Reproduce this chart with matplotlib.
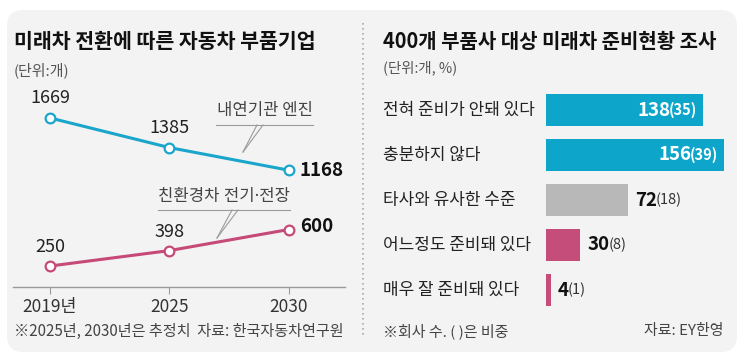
import matplotlib
matplotlib.use("Agg")
import matplotlib.pyplot as plt
from matplotlib.patches import FancyBboxPatch

plt.rcParams['font.family'] = ['Noto Sans CJK KR', 'DejaVu Sans']

# ---------------- data ----------------
years = ['2019년', '2025', '2030']
engine = [1669, 1385, 1168]
eco = [250, 398, 600]
engine_label = '내연기관 엔진'
eco_label = '친환경차 전기·전장'

categories = ['전혀 준비가 안돼 있다', '충분하지 않다', '타사와 유사한 수준',
              '어느정도 준비돼 있다', '매우 잘 준비돼 있다']
counts = [138, 156, 72, 30, 4]
shares = [35, 39, 18, 8, 1]

left_title = '미래차 전환에 따른 자동차 부품기업'
left_unit = '(단위:개)'
left_note = '※2025년, 2030년은 추정치  자료: 한국자동차연구원'
right_title = '400개 부품사 대상 미래차 준비현황 조사'
right_unit = '(단위:개, %)'
right_note = '※회사 수. ( )은 비중'
right_src = '자료: EY한영'

# ---------------- style ----------------
W, H = 743, 364
BLUE = '#1AA5CB'
PINK = '#C64A77'
BAR_BLUE = '#0DA6CA'
BAR_GRAY = '#B8B8B8'
BAR_PINK = '#C44E79'
bar_colors = [BAR_BLUE, BAR_BLUE, BAR_GRAY, BAR_PINK, BAR_PINK]
TXT = '#222222'

fig = plt.figure(figsize=(W / 100, H / 100), dpi=100)
fig.patch.set_facecolor('white')


def rect(x0, y0, x1, y1):
    return [x0 / W, 1 - y1 / H, (x1 - x0) / W, (y1 - y0) / H]


# background panel axes in pixel coords
bg = fig.add_axes([0, 0, 1, 1], zorder=-10)
bg.set_xlim(0, W)
bg.set_ylim(H, 0)
bg.axis('off')
bg.add_patch(FancyBboxPatch((7, 10), 730, 342, boxstyle='round,pad=0,rounding_size=16',
                            facecolor='#F3F3F3', edgecolor='none'))
bg.plot([363, 363], [23, 337], color='#AAAAAA', lw=1.2, linestyle=(0, (1, 2)))

# leader lines for series labels
bg.plot([216, 313], [125, 125], color='#9A9A9A', lw=0.8)
bg.plot([257, 243], [125, 152], color='#9A9A9A', lw=0.8)
bg.plot([263, 243], [125, 152], color='#9A9A9A', lw=0.8)
bg.plot([158, 290], [210, 210], color='#9A9A9A', lw=0.8)
bg.plot([232, 217], [210, 238], color='#9A9A9A', lw=0.8)
bg.plot([238, 217], [210, 238], color='#9A9A9A', lw=0.8)


def ftext(x, y, s, **kw):
    return fig.text(x / W, 1 - y / H, s, **kw)


# titles and notes
ftext(14, 42, left_title, fontsize=14.8, fontweight='bold', color='#111111', va='center')
ftext(14, 70, left_unit, fontsize=10.8, color='#555555', va='center')
ftext(14, 331, left_note, fontsize=10.9, color='#444444', va='center')
ftext(383, 42, right_title, fontsize=14.4, fontweight='bold', color='#111111', va='center')
ftext(383, 68, right_unit, fontsize=10.4, color='#555555', va='center')
ftext(383, 331, right_note, fontsize=10.8, color='#444444', va='center')
ftext(723, 331, right_src, fontsize=10.8, color='#444444', va='center', ha='right')
ftext(265, 110, engine_label, fontsize=12, color='#444444', va='center', ha='center')
ftext(224, 197, eco_label, fontsize=12, color='#444444', va='center', ha='center',
      family=['Noto Sans', 'Noto Sans CJK KR'])

# ---------------- line chart ----------------
ax = fig.add_axes(rect(13, 95, 345, 287))
ax.set_facecolor('none')
x = list(range(len(years)))
ax.set_xlim(-0.31, 2.47)
ax.set_ylim(49, 1889)
for vals, col in [(engine, BLUE), (eco, PINK)]:
    ax.plot(x, vals, color=col, lw=2.2, marker='o', markersize=7,
            markerfacecolor='white', markeredgecolor=col, markeredgewidth=1.6,
            solid_capstyle='round', zorder=3)
for i, v in enumerate(engine):
    if i < len(engine) - 1:
        ax.annotate(str(v), (i, v), xytext=(0, 20), textcoords='offset pixels',
                    ha='center', va='center', fontsize=13, color=TXT)
    else:
        ax.annotate(str(v), (i, v), xytext=(11, 0), textcoords='offset pixels',
                    ha='left', va='center', fontsize=13.5, fontweight='bold', color='#111111')
for i, v in enumerate(eco):
    if i < len(eco) - 1:
        ax.annotate(str(v), (i, v), xytext=(0, 19), textcoords='offset pixels',
                    ha='center', va='center', fontsize=13, color=TXT)
    else:
        ax.annotate(str(v), (i, v), xytext=(11, 3), textcoords='offset pixels',
                    ha='left', va='center', fontsize=13.5, fontweight='bold', color='#111111')
for s in ['top', 'right', 'left']:
    ax.spines[s].set_visible(False)
ax.spines['bottom'].set_color('#999999')
ax.spines['bottom'].set_linewidth(1.0)
ax.set_yticks([])
ax.set_xticks(x)
ax.set_xticklabels(years, fontsize=12.5, color='#333333')
ax.tick_params(axis='x', length=5, width=0.8, color='#999999', pad=3)

# ---------------- bar chart ----------------
bx = fig.add_axes(rect(546, 87.5, 730, 312.5))
bx.set_facecolor('none')
bx.set_xlim(0, 161.4)
bx.set_ylim(len(categories) - 0.5, -0.5)
yy = list(range(len(categories)))
bx.barh(yy, counts, height=0.69, color=bar_colors, zorder=2)
bx.axis('off')

renderer = fig.canvas.get_renderer()
for i, (c, s, cat) in enumerate(zip(counts, shares, categories)):
    bx.annotate(cat, (0, i), xytext=(-163, 0), textcoords='offset pixels',
                ha='left', va='center', fontsize=12.2, color=TXT)
    if i < 2:
        t2 = bx.annotate(f'({s})', (c, i), xytext=(-6, 0), textcoords='offset pixels',
                         ha='right', va='center', fontsize=10.5, fontweight='bold', color='white')
        w = t2.get_window_extent(renderer).width
        bx.annotate(str(c), (c, i), xytext=(-6 - w + 2, 0), textcoords='offset pixels',
                    ha='right', va='center', fontsize=13.5, fontweight='bold', color='white')
    else:
        t1 = bx.annotate(str(c), (c, i), xytext=(7, 0), textcoords='offset pixels',
                         ha='left', va='center', fontsize=13.5, fontweight='bold', color='#111111')
        w = t1.get_window_extent(renderer).width
        bx.annotate(f'({s})', (c, i), xytext=(7 + w - 1, 0), textcoords='offset pixels',
                    ha='left', va='center', fontsize=10.5, color='#333333')

fig.savefig('out.png', dpi=100)
